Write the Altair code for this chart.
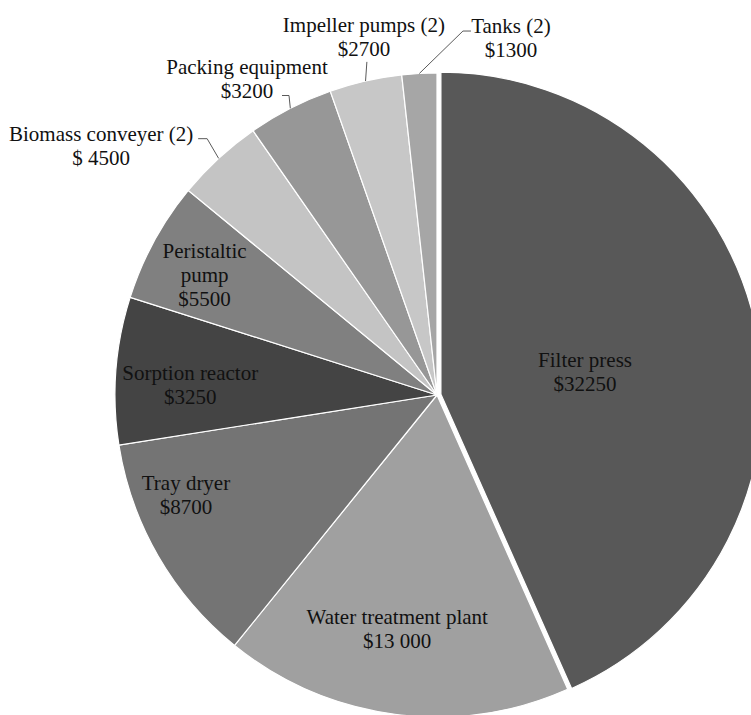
import altair as alt
import pandas as pd

# ---- data ----
categories = ["Filter press", "Water treatment plant", "Tray dryer", "Sorption reactor",
              "Peristaltic pump", "Biomass conveyer (2)", "Packing equipment",
              "Impeller pumps (2)", "Tanks (2)"]
# slice sizes as drawn (clockwise from 12 o'clock)
slice_values = [32250, 13000, 8700, 5500, 4500, 3250, 3200, 2700, 1300]
# label texts as printed on the chart
label_texts = ["Filter press\n$32250", "Water treatment plant\n$13 000", "Tray dryer\n$8700",
               "Sorption reactor\n$3250", "Peristaltic\npump\n$5500", "Biomass conveyer (2)\n$ 4500",
               "Packing equipment\n$3200", "Impeller pumps (2)\n$2700", "Tanks (2)\n$1300"]

# ---- styles / layout ----
colors = ["#585858", "#a0a0a0", "#747474", "#444444", "#808080",
          "#c4c4c4", "#979797", "#c7c7c7", "#a6a6a6"]
CX, CY, R = 437, 395, 322
LH = 24
TEXT_SHIFT = 2
explode = [4, 0, 0, 0, 0, 0, 0, 0, 0]
label_radius = [146, 236, 270, 247, 262, 421, 370, 366, 366]
label_turn = [2.8, 2.2, 8.4, -1.9, -1.05, -10.9, -3.8, 1.3, 14.8]
label_nudge_x = [0, 0, 0, 0, 0, 3, 0, 0, 0]
outside = [False, False, False, False, False, True, True, True, True]
elbow_dx = [0, 0, 0, 0, 0, 109, 42, 3, -48]
elbow_dy = [0, 0, 0, 0, 0, -6.5, 18, 25.5, -5.5]
end_dx = [0, 0, 0, 0, 0, 100, 35, 3, -40]

df = pd.DataFrame({
    "order": list(range(len(categories))),
    "category": categories,
    "value": slice_values,
    "label": label_texts,
    "color": colors,
    "explode": explode,
    "lr": label_radius,
    "turn": label_turn,
    "nx": label_nudge_x,
    "outside": outside,
    "edx": elbow_dx,
    "edy": elbow_dy,
    "tdx": end_dx,
})

base = alt.Chart(df).transform_joinaggregate(
    total="sum(value)"
).transform_window(
    cum="sum(value)", sort=[alt.SortField("order")], frame=[None, 0]
).transform_calculate(
    a0="2*PI*(datum.cum - datum.value)/datum.total",
    a1="2*PI*datum.cum/datum.total",
    nl="length(split(datum.label, '\\n'))",
).transform_calculate(
    mid="(datum.a0 + datum.a1)/2",
).transform_calculate(
    cx=f"{CX} + datum.explode*sin(datum.mid)",
    cy=f"{CY} - datum.explode*cos(datum.mid)",
    la="datum.mid + datum.turn*PI/180",
    px=f"{CX} + {R}*sin(datum.mid)",
    py=f"{CY} - {R}*cos(datum.mid)",
).transform_calculate(
    lx="datum.cx + datum.lr*sin(datum.la)",
    ly="datum.cy - datum.lr*cos(datum.la)",
).transform_calculate(
    lx1="datum.lx + datum.nx",
    ly1=f"datum.ly - (datum.nl - 1)*{LH}/2 + {TEXT_SHIFT}",
    ex="datum.lx + datum.edx",
    ey="datum.ly + datum.edy",
    tx="datum.lx + datum.tdx",
    ty="datum.ly + datum.edy",
)

arcs = base.mark_arc(radius=R, stroke="white", strokeWidth=1.2).encode(
    theta=alt.Theta("a0:Q", scale=None),
    theta2="a1:Q",
    x=alt.X("cx:Q", scale=None, axis=None),
    y=alt.Y("cy:Q", scale=None, axis=None),
    color=alt.Color("color:N", scale=None),
)

lead1 = base.transform_filter("datum.outside").mark_rule(color="#5a5a5a", strokeWidth=1).encode(
    x=alt.X("px:Q", scale=None, axis=None),
    y=alt.Y("py:Q", scale=None, axis=None),
    x2="ex:Q",
    y2="ey:Q",
)
lead2 = base.transform_filter("datum.outside").mark_rule(color="#5a5a5a", strokeWidth=1).encode(
    x=alt.X("ex:Q", scale=None, axis=None),
    y=alt.Y("ey:Q", scale=None, axis=None),
    x2="tx:Q",
    y2="ty:Q",
)

labels = base.mark_text(font="Liberation Serif", fontSize=21, lineHeight=LH,
                        align="center", baseline="middle", lineBreak="\n",
                        color="#111111").encode(
    x=alt.X("lx1:Q", scale=None, axis=None),
    y=alt.Y("ly1:Q", scale=None, axis=None),
    text="label:N",
)

chart = alt.layer(arcs, lead1, lead2, labels).properties(
    width=751, height=715, autosize="none", padding=0
).configure_view(stroke=None)

chart.save("out.html", embed_options={"renderer": "svg", "actions": False})
